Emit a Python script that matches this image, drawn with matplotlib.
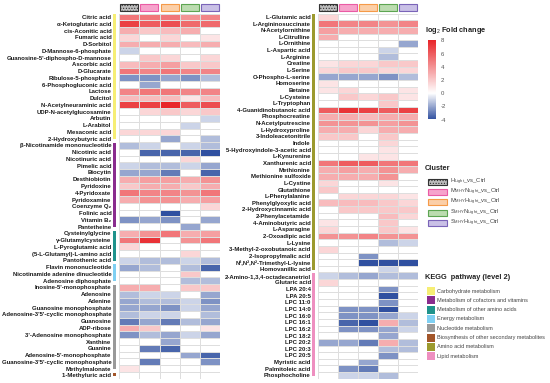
import numpy as np
import matplotlib
matplotlib.use("Agg")
import matplotlib.pyplot as plt
from matplotlib.colors import LinearSegmentedColormap, Normalize
from matplotlib.patches import Rectangle
import matplotlib.transforms as mtransforms

plt.rcParams['font.family'] = ['Liberation Sans', 'DejaVu Sans']
plt.rcParams['mathtext.fontset'] = 'custom'
plt.rcParams['mathtext.rm'] = 'Liberation Sans'
plt.rcParams['mathtext.it'] = 'Liberation Sans'
plt.rcParams['mathtext.bf'] = 'Liberation Sans:bold'

# ---------------- data ----------------
clusters = ["H$_{Light}$_vs_Ctrl", "M$_{MHY}$N$_{Light}$_vs_Ctrl", "M$_{MHY}$H$_{Light}$_vs_Ctrl",
            "S$_{MHY}$N$_{Light}$_vs_Ctrl", "S$_{MHY}$H$_{Light}$_vs_Ctrl"]

left_labels = [
    "Citric acid", "α-Ketoglutaric acid", "cis-Aconitic acid", "Fumaric acid", "D-Sorbitol",
    "D-Mannose-6-phosphate", "Guanosine-5'-diphospho-D-mannose", "Ascorbic acid", "D-Glucarate",
    "Ribulose-5-phosphate", "6-Phosphogluconic acid", "Lactose", "Dulcitol", "N-Acetylneuraminic acid",
    "UDP-N-acetylglucosamine", "Arbutin", "L-Arabitol", "Mesaconic acid", "2-Hydroxybutyric acid",
    "β-Nicotinamide mononucleotide", "Nicotinic acid", "Nicotinuric acid", "Pimelic acid", "Biocytin",
    "Desthiobiotin", "Pyridoxine", "4-Pyridoxate", "Pyridoxamine", "Coenzyme Q₂", "Folinic acid",
    "Vitamin B₂", "Pantetheine", "Cysteinylglycine", "γ-Glutamylcysteine", "L-Pyroglutamic acid",
    "(5-L-Glutamyl)-L-amino acid", "Pantothenic acid", "Flavin mononucleotide",
    "Nicotinamide adenine dinucleotide", "Adenosine diphosphate", "Inosine-5'-monophosphate",
    "Adenosine", "Adenine", "Guanosine monophosphate", "Adenosine-3'5'-cyclic monophosphate",
    "Guanosine", "ADP-ribose", "3'-Adenosine monophosphate", "Xanthine", "Guanine",
    "Adenosine-5'-monophosphate", "Guanosine-3'5'-cyclic monophosphate", "Methylmalonate",
    "1-Methyluric acid"]

left_values = [
    [5, 5, 5, 4, 4.5], [7, 6, 6.5, 5.5, 5.5], [3, 2, 2.5, 3, 0], [1.5, 0, 1.5, 0, 1],
    [3, 3, 3, 2.5, 3], [-1, 0, 0, 0, 0], [0, 2, 1.5, 0, 1.5], [2.5, 3, 3.5, 2, 2],
    [5, 4.5, 5, 4.5, 4.5], [-2.5, -2.5, -2, -2.5, -1.5], [0, -2, 0, 0, 0], [4.5, 5, 5, 4.5, 4.5],
    [2.5, 2.5, 2.5, 1, 2.5], [7, 7, 8, 6, 6.5], [0, 1.5, 2, 1.5, 2], [0, 0, 0, 0, -1],
    [0, 0, 0, -1, 0], [1.5, 1.5, 1.5, 0, 0], [0, 0, -2, 0, -1.5],
    [-1.5, -1, 0, -1, -1.5], [0, -3.5, -3.5, -3.5, -4], [0, 0, 0, 1.5, 0], [-1, -1.5, -1.5, -1, -2],
    [-2, -2, -3, 0, -3.5], [3, 3.5, 3.5, 3, 4], [2, 3, 3, 2, 3], [5, 4.5, 4.5, 4, 5],
    [3, 4, 4, 3, 3.5], [0, 0, 0, 0, 1.5], [0, 0, -4, 0, 0], [-2.5, -2, -2.5, 0, -2],
    [0, 0, 0, -2, 0], [3, 4, 5, 3, 3.5], [5, 7.5, 0, 4, 5], [1.5, 0, 0, 0, 0],
    [0, 0, 0, 1.5, 0], [-1, -1.5, -1.5, -1, -1.5], [-2, -1.5, 0, -1.5, -3.5], [0, 0, 0, 2, 0],
    [0, 0, 0, -1.5, -1.5], [3, 3, 0, 2, 2], [-1.5, -1, -1, 0, -2], [-2, -1.5, -1.5, -1, -2.5],
    [-2, -2, -2.5, -1, -2], [-1.5, -1, -1, 0, -1.5], [-3, -2, -3, -1.5, -2], [3, 2, 0, 0, 1],
    [-2.5, -1.5, -2, -1, -2], [0, 0, -2, 0, 0], [0, -3, -3.5, 0, 0], [0, 0, 0, -2, -3.5],
    [0, -3, 0, 0, -2.5], [1, 0, 0, 0, 0], [0, 0, 0, 0, 0]]

left_groups = ["Carbohydrate metabolism"] * 19 + ["Metabolism of cofactors and vitamins"] * 13 + \
              ["Metabolism of other amino acids"] * 5 + ["Energy metabolism"] * 3 + \
              ["Nucleotide metabolism"] * 13 + ["Biosynthesis of other secondary metabolites"] * 1

right_labels = [
    "L-Glutamic acid", "L-Argininosuccinate", "N-Acetylornithine", "L-Citrulline", "L-Ornithine",
    "L-Aspartic acid", "L-Arginine", "Creatine", "L-Serine", "O-Phospho-L-serine", "Homoserine",
    "Betaine", "L-Cysteine", "L-Tryptophan", "4-Guanidinobutanoic acid", "Phosphocreatine",
    "N-Acetylputrescine", "L-Hydroxyproline", "3-Indoleacetonitrile", "Indole",
    "5-Hydroxyindole-3-acetic acid", "L-Kynurenine", "Xanthurenic acid", "Methionine",
    "Methionine sulfoxide", "L-Cystine", "Glutathione", "L-Phenylalanine", "Phenylglyoxylic acid",
    "2-Hydroxycinnamic acid", "2-Phenylacetamide", "4-Aminobutyric acid", "L-Asparagine",
    "2-Oxoadipic acid", "L-Lysine", "3-Methyl-2-oxobutanoic acid", "2-Isopropylmalic acid",
    "N²,N²,N²-Trimethyl-L-lysine", "Homovanillic acid", "2-Amino-1,3,4-octadecanetriol",
    "Glutaric acid", "LPA 20:4", "LPA 20:5", "LPC 11:0", "LPC 14:0", "LPC 16:0", "LPC 16:1",
    "LPC 16:2", "LPC 18:2", "LPC 20:2", "LPC 20:3", "LPC 20:5", "Myristic acid",
    "Palmitoleic acid", "Phosphocholine"]

right_values = [
    [1.5, 0, 0, 0, 0], [5, 4.5, 4.5, 4, 4.5], [3.5, 3, 3, 3, 3], [3, 0, 0, 0, 0],
    [0, 0, 0, 0, -2], [0, 0, 0, -1, 0], [0, 0, 0, -1.5, 0], [1, 1.5, 1.5, 2, 2],
    [1.5, 2, 2, 1.5, 1.5], [-2, -2, -2, -2.5, -1.5], [1, 0, 0, 0, 0], [1, 1.5, 0, 0, 1],
    [0, 2, 1.5, 2, 1], [0, 0, 0, 2, 0], [6, 7.5, 7, 6, 7], [3, 3, 2.5, 3, 3],
    [4, 4, 4, 3.5, 4], [3, 3, 1.5, 3, 3], [2, 2, 0, 2, 0], [0, 0, 0, 1.5, 0],
    [0, 0, 0, 1, 0], [0, 0, 1, 1, 0], [5, 6, 6, 5, 5], [3, 3.5, 3, 4, 3],
    [3, 3, 3, 4, 0], [1.5, 0, 0, 1, 0], [2, 0, 0, 0, 0], [0, 1.5, 1.5, 1.5, 1],
    [2.5, 2.5, 2.5, 2, 1.5], [0, 2, 2, 2, 2], [0, 0, 0, 2.5, 1.5], [1, 0, 0, 2, 0],
    [1.5, 0, 0, 2, 1], [4, 4, 4.5, 4, 4], [0, 0, 0, -1.5, -1], [1.5, 0, 0, 0, 0],
    [0, 0, -2.5, 0, 0], [0, 0, -4, -4, -4], [0, 0, 0, -1, 0], [-1, -1.5, -2, -1.5, -1.5],
    [1.5, 0, 0, 0, 0], [0, 0, 0, -2.5, 0], [0, 0, 0, -4, 0], [0, 0, 0, -2.5, 0],
    [0, -2.5, -2.5, -4, 0], [0, -2.5, -2.5, -2, -1], [0, -3.5, -4, 3, -1.5],
    [0, -2.5, -2.5, -2, -1], [0, 0, 0, -2, 0], [-2, -2, -3, 3, -1.5], [0, 0, 0, -1.5, -1.5],
    [0, 0, 0, -2.5, 0], [0, 0, -2, 0, 0], [0, -2.5, -3, 0, 0], [0, -1, -1, -1.5, 0]]

right_groups = ["Amino acid metabolism"] * 39 + ["Lipid metabolism"] * 16

pathways = ["Carbohydrate metabolism", "Metabolism of cofactors and vitamins",
            "Metabolism of other amino acids", "Energy metabolism", "Nucleotide metabolism",
            "Biosynthesis of other secondary metabolites", "Amino acid metabolism", "Lipid metabolism"]
cbar_ticks = [8, 6, 4, 2, 0, -2, -4]
cbar_ticklabels = ["8", "6", "4", "2", "0", "-2", "-4"]

# ---------------- styles ----------------
pathway_colors = {
    "Carbohydrate metabolism": "#f6ee74",
    "Metabolism of cofactors and vitamins": "#8a2c8e",
    "Metabolism of other amino acids": "#1f938c",
    "Energy metabolism": "#7fd0f3",
    "Nucleotide metabolism": "#999999",
    "Biosynthesis of other secondary metabolites": "#a3562a",
    "Amino acid metabolism": "#9c9a2e",
    "Lipid metabolism": "#ee8fc0",
}
cluster_face = ["#bdbdbd", "#f6a3cc", "#fbcfa8", "#bcdcb0", "#c9c0e6"]
cluster_edge = ["#333333", "#ea5ba4", "#f59a48", "#5da552", "#7a64b8"]

cmap = LinearSegmentedColormap.from_list(
    "fc", [(0.0, "#3050a0"), (1 / 3, "#ffffff"), (1.0, "#e8262a")])
norm = Normalize(vmin=-4, vmax=8)

W, H = 550, 383
fig = plt.figure(figsize=(W / 100, H / 100), dpi=100)


def fx(p):
    return p / W


def fy(p):
    return 1 - p / H


top_px, bot_px = 13.6, 378.7
plt.rcParams['hatch.linewidth'] = 0.5


def draw_heat(labels, values, groups, x0, x1, bar_x, pad_px):
    ax = fig.add_axes([fx(x0), fy(bot_px), (x1 - x0) / W, (bot_px - top_px) / H])
    arr = np.array(values, dtype=float)
    n = len(labels)
    ax.pcolormesh(arr, cmap=cmap, norm=norm, edgecolors="#dedede", linewidth=0.4)
    ax.set_xlim(0, 5)
    ax.set_ylim(n, 0)
    ax.set_xticks([])
    ax.set_yticks(np.arange(n) + 0.5)
    ax.set_yticklabels(labels, fontsize=4.3, fontweight="bold", color="#1a1a1a")
    ax.tick_params(axis="y", length=0, pad=pad_px * 0.72)
    for s in ax.spines.values():
        s.set_visible(False)
    # cluster header boxes
    tr = mtransforms.blended_transform_factory(ax.transData, fig.transFigure)
    for j in range(5):
        ax.add_artist(Rectangle((j + 0.05, fy(10.5)), 0.9, 6.5 / H, transform=tr, clip_on=False,
                                facecolor=cluster_face[j], edgecolor=cluster_edge[j], linewidth=0.8,
                                hatch="......" if j == 0 else None))
    # pathway side bars
    tr2 = mtransforms.blended_transform_factory(fig.transFigure, ax.transData)
    i = 0
    while i < n:
        g = groups[i]
        k = i
        while k < n and groups[k] == g:
            k += 1
        ax.add_artist(Rectangle((fx(bar_x), i + 0.1), 3.2 / W, (k - i) - 0.55, transform=tr2,
                                clip_on=False, facecolor=pathway_colors[g], edgecolor="none"))
        i = k
    return ax


axL = draw_heat(left_labels, left_values, left_groups, 119.3, 219.8, 113.3, 8)
axR = draw_heat(right_labels, right_values, right_groups, 317.7, 418.2, 312.0, 7)

# ---------------- colour bar ----------------
cax = fig.add_axes([fx(427.7), fy(119.5), 8.5 / W, 79 / H])
sm = plt.cm.ScalarMappable(cmap=cmap, norm=norm)
cb = fig.colorbar(sm, cax=cax, ticks=cbar_ticks)
cb.ax.set_yticklabels(cbar_ticklabels)
cb.outline.set_visible(False)
cb.ax.tick_params(length=0, labelsize=4.3, labelcolor="#555555", pad=3)
fig.text(fx(425), fy(30), "log$_2$ Fold change", fontsize=5.3, fontweight="bold",
         va="center", ha="left", color="#222222")

# ---------------- cluster legend ----------------
fig.text(fx(425), fy(169), "Cluster", fontsize=5.3, fontweight="bold", va="center",
         ha="left", color="#222222")
for j, lab in enumerate(clusters):
    yc = 181.5 + j * 10.4
    fig.add_artist(Rectangle((fx(428), fy(yc + 3)), 19 / W, 6 / H, transform=fig.transFigure,
                             facecolor=cluster_face[j], edgecolor=cluster_edge[j], linewidth=0.8,
                             hatch="......" if j == 0 else None))
    fig.text(fx(450), fy(yc), lab, fontsize=4.2, va="center", ha="left", color="#444444")

# ---------------- KEGG legend ----------------
fig.text(fx(425), fy(277.5), "KEGG  pathway (level 2)", fontsize=5.3, fontweight="bold",
         va="center", ha="left", color="#222222")
for j, p in enumerate(pathways):
    yc = 291 + j * 9.3
    fig.add_artist(Rectangle((fx(427), fy(yc + 4)), 8 / W, 8 / H, transform=fig.transFigure,
                             facecolor=pathway_colors[p], edgecolor="none"))
    fig.text(fx(437), fy(yc), p, fontsize=4.0, va="center", ha="left", color="#444444")

fig.savefig("out.png", dpi=100)
